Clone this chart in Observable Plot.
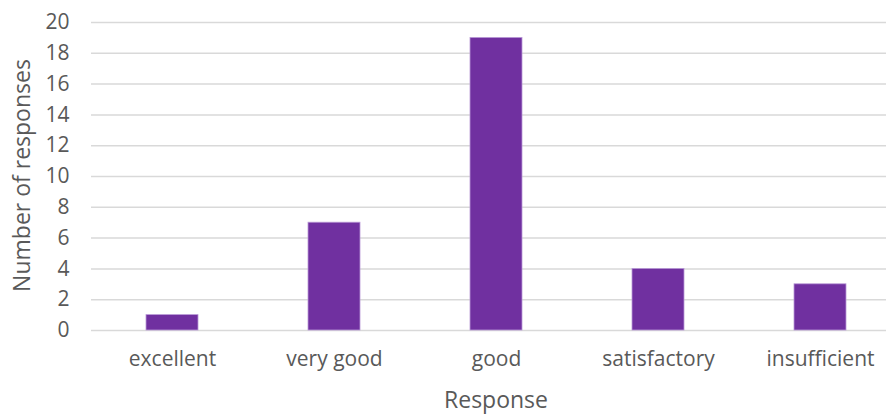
<!DOCTYPE html>
<html>
<head>
<meta charset="utf-8">
<script src="https://cdn.jsdelivr.net/npm/d3@7"></script>
<script src="https://cdn.jsdelivr.net/npm/@observablehq/plot@0.6"></script>
<style>
  html, body { margin: 0; padding: 0; background: #fff; }
  #chart svg { display: block; }
</style>
</head>
<body>
<div id="chart"></div>
<script>
const categories = ["excellent", "very good", "good", "satisfactory", "insufficient"];
const counts = [1, 7, 19, 4, 3];
const yTicks = [0, 2, 4, 6, 8, 10, 12, 14, 16, 18, 20];
const xTitle = "Response";
const yTitle = "Number of responses";

const data = categories.map((c, i) => ({response: c, count: counts[i]}));

const chart = Plot.plot({
  width: 886,
  height: 414,
  marginLeft: 91,
  marginRight: 0,
  marginTop: 22,
  marginBottom: 84,
  style: {fontFamily: "'Open Sans', sans-serif", fontSize: "21px", color: "#595959", background: "#fff"},
  x: {domain: categories, range: [91, 901], paddingInner: 0.68, paddingOuter: 0.34},
  y: {domain: [0, 20]},
  marks: [
    Plot.gridY(yTicks, {stroke: "#d9d9d9", strokeOpacity: 1, strokeWidth: 1.5}),
    Plot.barY(data, {x: "response", y: "count", fill: "#7030A0", stroke: "#b99ad6", strokeWidth: 0.8}),
    Plot.axisY(yTicks, {tickSize: 0, tickPadding: 22, fill: "#595959", fontSize: 21, label: null}),
    Plot.axisX({tickSize: 0, tickPadding: 21, fill: "#595959", fontSize: 21, label: null}),
    Plot.text([yTitle], {frameAnchor: "left", text: d => d, rotate: -90, dx: -69, dy: -1,
      fontSize: 23, fill: "#595959", textAnchor: "middle", lineAnchor: "middle"}),
    Plot.text([xTitle], {frameAnchor: "bottom", text: d => d, dx: 7, dy: 70,
      fontSize: 23, fill: "#595959", textAnchor: "middle", lineAnchor: "middle"})
  ]
});
document.getElementById("chart").appendChild(chart);
</script>
</body>
</html>
